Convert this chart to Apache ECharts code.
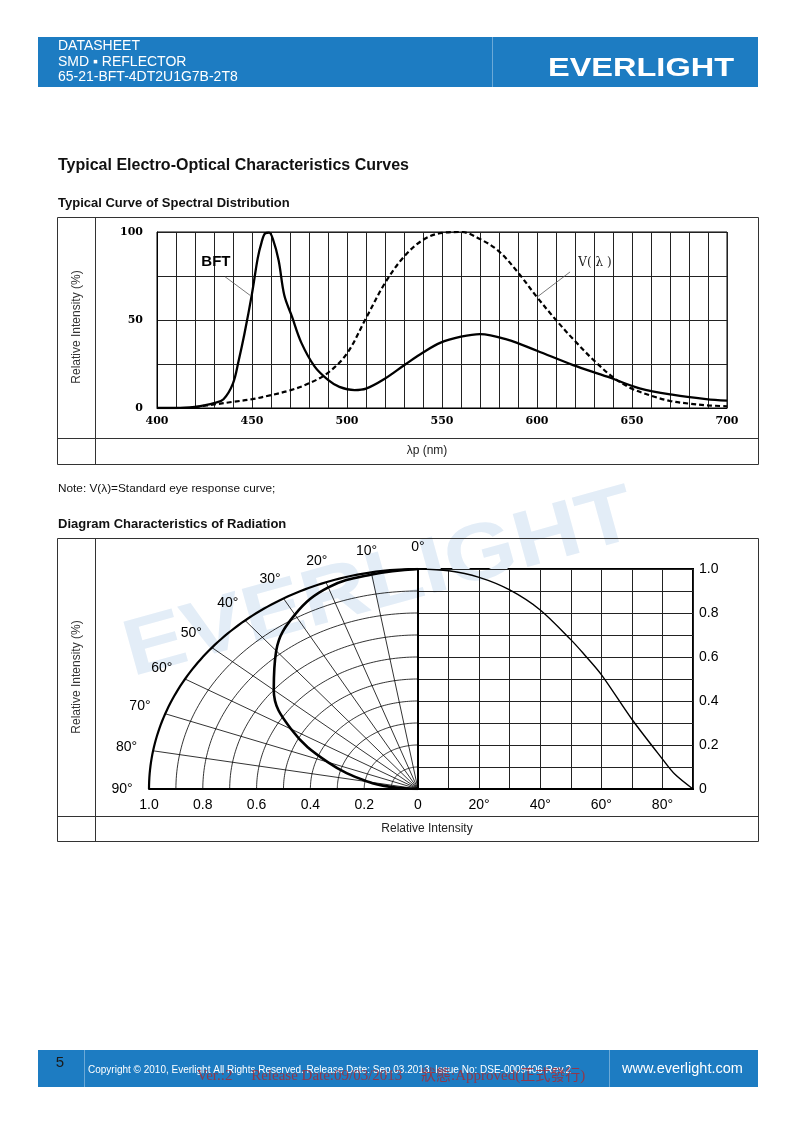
<!DOCTYPE html>
<html><head><meta charset="utf-8">
<script src="https://cdn.jsdelivr.net/npm/echarts/dist/echarts.min.js"></script>
<style>html,body{margin:0;padding:0;background:#fff}#c{width:794px;height:1123px}</style>
</head><body><div id="c"></div>
<script>
// ---------- DATA ----------
const spectralXTickLabels = [400, 450, 500, 550, 600, 650, 700];
const spectralYTickLabels = [0, 50, 100];
const bftWavelength = [400,410,420,425,430,435,440,443,446,450,453,455,457,459,461,464,467,471,476,483,490,496,504,510,519,531,540,549,560,570,584,600,619,637,654,672,689,700];
const bftIntensity  = [0,0,0.6,1.5,2.8,5,14,27,42,65,85,94,99.3,99.6,96,84,64,52,37,23.5,16,12,10.2,11,16,25,31.5,37,40.5,42,39,32.5,24.4,17.8,11.2,7.4,5.1,4.2];
const vWavelength = [420,430,440,450,460,470,480,490,500,510,520,530,540,550,560,570,580,590,600,610,620,630,640,650,660,670,680,690,700];
const vIntensity  = [0.5,2,3.5,5,7.3,10,14,20,31,51,71,86,95.5,99.5,100,96,89,77,63,50,38,27,17.5,11,7,4,2.5,1.5,1];
const spectralLabels = ['BFT', 'V( λ )'];

const polarAngles    = [0,10,20,30,40,50,60,70,80,85,90];
const polarIntensity = [1,0.99,0.975,0.915,0.82,0.70,0.545,0.357,0.188,0.09,0];
const cartAngles     = [0,10,20,30,40,50,54,60,70,80,84,90];
const cartIntensity  = [1,0.992,0.962,0.905,0.814,0.679,0.618,0.52,0.317,0.136,0.068,0];
const angleTickLabels = [0,10,20,30,40,50,60,70,80,90];
const radialTickLabels = [1.0,0.8,0.6,0.4,0.2,0];
const cartXTickLabels = [20,40,60,80];
const cartYTickLabels = [0,0.2,0.4,0.6,0.8,1.0];
// polar grid geometry (not data)
const ringRadii = [0.1,0.2,0.3,0.4,0.5,0.6,0.7,0.8,0.9,1.0];
const spokeAngles = [10,20,30,40,50,60,70,80];

// ---------- CHART ----------
const SANS = '"Liberation Sans", Arial, sans-serif';
const SERIF = '"DejaVu Serif", serif';
const rad = d => d * Math.PI / 180;
const BLUE = '#1d7cc2';
const chart = echarts.init(document.getElementById('c'), null, {renderer: 'canvas'});

function txt(text, x, y, size, opts) {
  opts = opts || {};
  return {
    type: 'text', x: x, y: y, z: opts.z || 20, rotation: opts.rotation || 0,
    scaleX: opts.scaleX || 1,
    style: {
      text: text, fill: opts.color || '#000',
      font: (opts.weight || 'normal') + ' ' + size + 'px ' + (opts.family || SANS),
      textAlign: opts.align || 'left', align: opts.align || 'left',
      textVerticalAlign: 'middle', verticalAlign: 'middle'
    }
  };
}
function line(x1, y1, x2, y2, color, w) {
  return {type: 'line', z: 20, shape: {x1: x1, y1: y1, x2: x2, y2: y2}, style: {stroke: color || '#000', lineWidth: w || 1}};
}
function box(x, y, w, h, color, lw) {
  return {type: 'rect', z: 20, shape: {x: x, y: y, width: w, height: h}, style: {fill: 'transparent', stroke: color || '#000', lineWidth: lw || 1}};
}

const graphics = [
  // watermark
  {type: 'text', x: 380, y: 585, z: 0, rotation: 0.27, scaleX: 1.15,
   style: {text: 'EVERLIGHT', fill: '#e3edf7', font: 'bold 80px ' + SANS,
           textAlign: 'center', align: 'center', textVerticalAlign: 'middle', verticalAlign: 'middle'}},
  // header
  {type: 'rect', z: 5, shape: {x: 38, y: 37, width: 720, height: 50}, style: {fill: BLUE}},
  line(492.5, 37, 492.5, 87, 'rgba(255,255,255,0.35)', 1),
  txt('DATASHEET', 58, 46.5, 14, {color: '#fff'}),
  txt('SMD \u25AA REFLECTOR', 58, 62, 14, {color: '#fff'}),
  txt('65-21-BFT-4DT2U1G7B-2T8', 58, 77, 14, {color: '#fff'}),
  txt('EVERLIGHT', 548, 69, 25, {color: '#fff', weight: 'bold', scaleX: 1.3}),
  // titles
  txt('Typical Electro-Optical Characteristics Curves', 58, 166, 16, {weight: 'bold', color: '#111'}),
  txt('Typical Curve of Spectral Distribution', 58, 203, 13, {weight: 'bold', color: '#111'}),
  txt('Note: V(\u03BB)=Standard eye response curve;', 58, 489, 11.8, {color: '#111'}),
  txt('Diagram Characteristics of Radiation', 58, 524, 13, {weight: 'bold', color: '#111'}),
  // spectral frame
  box(57.5, 217.5, 701, 247, '#333', 1),
  line(95.5, 217.5, 95.5, 464.5, '#333', 1),
  line(57.5, 438.5, 758.5, 438.5, '#333', 1),
  txt('Relative Intensity (%)', 77, 327, 12, {rotation: Math.PI / 2, align: 'center', color: '#333'}),
  txt('\u03BBp (nm)', 427, 451, 12, {align: 'center', color: '#222'}),
  // radiation frame
  box(57.5, 538.5, 701, 303, '#333', 1),
  line(95.5, 538.5, 95.5, 841.5, '#333', 1),
  line(57.5, 816.5, 758.5, 816.5, '#333', 1),
  txt('Relative Intensity (%)', 77, 677, 12, {rotation: Math.PI / 2, align: 'center', color: '#333'}),
  txt('Relative Intensity', 427, 829, 12, {align: 'center', color: '#222'}),
  // footer
  {type: 'rect', z: 5, shape: {x: 38, y: 1050, width: 720, height: 37}, style: {fill: BLUE}},
  line(84.5, 1050, 84.5, 1087, 'rgba(255,255,255,0.35)', 1),
  line(609.5, 1050, 609.5, 1087, 'rgba(255,255,255,0.35)', 1),
  txt('5', 60, 1063, 15, {align: 'center', color: '#1a1a1a'}),
  txt('Copyright \u00A9 2010, Everlight All Rights Reserved. Release Date: Sep.03.2013. Issue No: DSE-0009406 Rev.2', 88, 1070, 10, {color: '#fff'}),
  txt('www.everlight.com', 622, 1069, 14.5, {color: '#fff'}),
  txt('Ver.:2     Release Date:09/03/2013     \u72C0\u614B:Approved(\u6B63\u5F0F\u767C\u884C)', 197, 1076, 15, {color: 'rgba(165,45,55,0.85)', family: '"Liberation Serif", "Noto Sans CJK TC", serif', z: 21})
];

const axisLabelSerif = {fontFamily: SERIF, fontSize: 11, fontWeight: 'bold', color: '#000'};
const axisLabelSans = {fontFamily: SANS, fontSize: 14, color: '#000'};

const option = {
  animation: false,
  backgroundColor: '#fff',
  graphic: graphics,
  grid: [
    {left: 157, top: 232, width: 570, height: 176, show: true, borderColor: '#000', borderWidth: 1, backgroundColor: 'transparent'},
    {left: 149, top: 569, width: 269, height: 220},
    {left: 418, top: 569, width: 275, height: 220, show: true, borderColor: '#000', borderWidth: 2, backgroundColor: 'transparent'}
  ],
  xAxis: [
    {gridIndex: 0, type: 'value', min: 400, max: 700, interval: 10,
     axisLine: {show: true, lineStyle: {color: '#000', width: 1}}, axisTick: {show: false},
     splitLine: {show: true, lineStyle: {color: '#222', width: 1}},
     axisLabel: Object.assign({margin: 8, formatter: v => spectralXTickLabels.includes(v) ? String(v) : ''}, axisLabelSerif)},
    {gridIndex: 1, type: 'value', min: -1, max: 0, interval: 0.2,
     axisLine: {show: true, lineStyle: {color: '#000', width: 2}}, axisTick: {show: false}, splitLine: {show: false},
     axisLabel: Object.assign({margin: 9, formatter: v => {
       const a = Math.abs(v);
       const hit = radialTickLabels.find(t => Math.abs(t - a) < 1e-6);
       return hit === undefined ? '' : (hit === 0 ? '0' : hit.toFixed(1));
     }}, axisLabelSans)},
    {gridIndex: 2, type: 'value', min: 0, max: 90, interval: 10,
     axisLine: {show: true, lineStyle: {color: '#000', width: 2}}, axisTick: {show: false},
     splitLine: {show: true, lineStyle: {color: '#222', width: 1}},
     axisLabel: Object.assign({margin: 9, formatter: v => cartXTickLabels.includes(v) ? v + '\u00B0' : ''}, axisLabelSans)}
  ],
  yAxis: [
    {gridIndex: 0, type: 'value', min: 0, max: 100, interval: 25,
     axisLine: {show: true, lineStyle: {color: '#000'}}, axisTick: {show: false},
     splitLine: {show: true, lineStyle: {color: '#222', width: 1}},
     axisLabel: Object.assign({margin: 14, formatter: v => spectralYTickLabels.includes(v) ? String(v) : ''}, axisLabelSerif)},
    {gridIndex: 1, type: 'value', min: 0, max: 1, show: false},
    {gridIndex: 2, type: 'value', min: 0, max: 1, interval: 0.1, position: 'right',
     axisLine: {show: true, lineStyle: {color: '#000', width: 2}}, axisTick: {show: false},
     splitLine: {show: true, lineStyle: {color: '#222', width: 1}},
     axisLabel: Object.assign({margin: 6, formatter: v => {
       const hit = cartYTickLabels.find(t => Math.abs(t - v) < 1e-6);
       return hit === undefined ? '' : (hit === 0 ? '0' : hit.toFixed(1));
     }}, axisLabelSans)}
  ],
  series: [
    // spectral curves
    {type: 'line', xAxisIndex: 0, yAxisIndex: 0, smooth: 0.35, showSymbol: false, z: 5,
     data: bftWavelength.map((w, i) => [w, bftIntensity[i]]),
     lineStyle: {color: '#000', width: 2.3}},
    {type: 'line', xAxisIndex: 0, yAxisIndex: 0, smooth: 0.35, showSymbol: false, z: 5,
     data: vWavelength.map((w, i) => [w, vIntensity[i]]),
     lineStyle: {color: '#000', width: 2.2, type: [5, 3]}},
    // annotation leaders
    {type: 'line', xAxisIndex: 0, yAxisIndex: 0, showSymbol: false, z: 6,
     data: [[435.8, 74.6], [449, 64]], lineStyle: {color: '#555', width: 0.8}},
    {type: 'line', xAxisIndex: 0, yAxisIndex: 0, showSymbol: false, z: 6,
     data: [[617.4, 77.3], [600, 63]], lineStyle: {color: '#555', width: 0.8}},
    {type: 'scatter', xAxisIndex: 0, yAxisIndex: 0, symbolSize: 0, z: 7, clip: false,
     itemStyle: {opacity: 1},
     data: [{value: [431, 83], name: spectralLabels[0],
             label: {fontFamily: SANS, fontWeight: 'bold', fontSize: 15, color: '#000'}},
            {value: [630.5, 82.5], name: spectralLabels[1],
             label: {fontFamily: SERIF, fontSize: 12, color: '#222'}}],
     label: {show: true, position: 'inside', formatter: '{b}', opacity: 1}},
    // polar rings
    {type: 'custom', xAxisIndex: 1, yAxisIndex: 1, z: 3, silent: true,
     data: ringRadii.map(r => ({value: [0, 0, r]})),
     renderItem: (p, api) => {
       const r = api.value(2), pts = [];
       for (let a = 0; a <= 90; a += 1) pts.push(api.coord([-r * Math.sin(rad(a)), r * Math.cos(rad(a))]));
       return {type: 'polyline', shape: {points: pts}, style: {stroke: '#000', lineWidth: r > 0.99 ? 2.2 : 0.8, fill: null}};
     }},
    // polar spokes
    {type: 'custom', xAxisIndex: 1, yAxisIndex: 1, z: 3, silent: true,
     data: spokeAngles.map(a => ({value: [0, 0, a]})),
     renderItem: (p, api) => {
       const a = api.value(2);
       const p0 = api.coord([0, 0]), p1 = api.coord([-Math.sin(rad(a)), Math.cos(rad(a))]);
       return {type: 'line', shape: {x1: p0[0], y1: p0[1], x2: p1[0], y2: p1[1]}, style: {stroke: '#000', lineWidth: 0.8}};
     }},
    // polar pattern
    {type: 'line', xAxisIndex: 1, yAxisIndex: 1, smooth: 0.4, showSymbol: false, z: 5,
     data: polarAngles.map((a, i) => [-polarIntensity[i] * Math.sin(rad(a)), polarIntensity[i] * Math.cos(rad(a))]),
     lineStyle: {color: '#000', width: 2.6}},
    // polar angle labels
    {type: 'scatter', xAxisIndex: 1, yAxisIndex: 1, symbolSize: 0, z: 7, clip: false,
     itemStyle: {opacity: 1},
     data: angleTickLabels.map(a => ({value: [-1.1 * Math.sin(rad(a)), 1.1 * Math.cos(rad(a))], name: a + '\u00B0'})),
     label: {show: true, position: 'inside', formatter: '{b}', fontFamily: SANS, fontSize: 14, color: '#000', opacity: 1}},
    // cartesian intensity vs angle
    {type: 'line', xAxisIndex: 2, yAxisIndex: 2, smooth: 0.3, showSymbol: false, z: 5,
     data: cartAngles.map((a, i) => [a, cartIntensity[i]]),
     lineStyle: {color: '#000', width: 1.4}}
  ]
};
chart.setOption(option);
</script>
</body></html>
